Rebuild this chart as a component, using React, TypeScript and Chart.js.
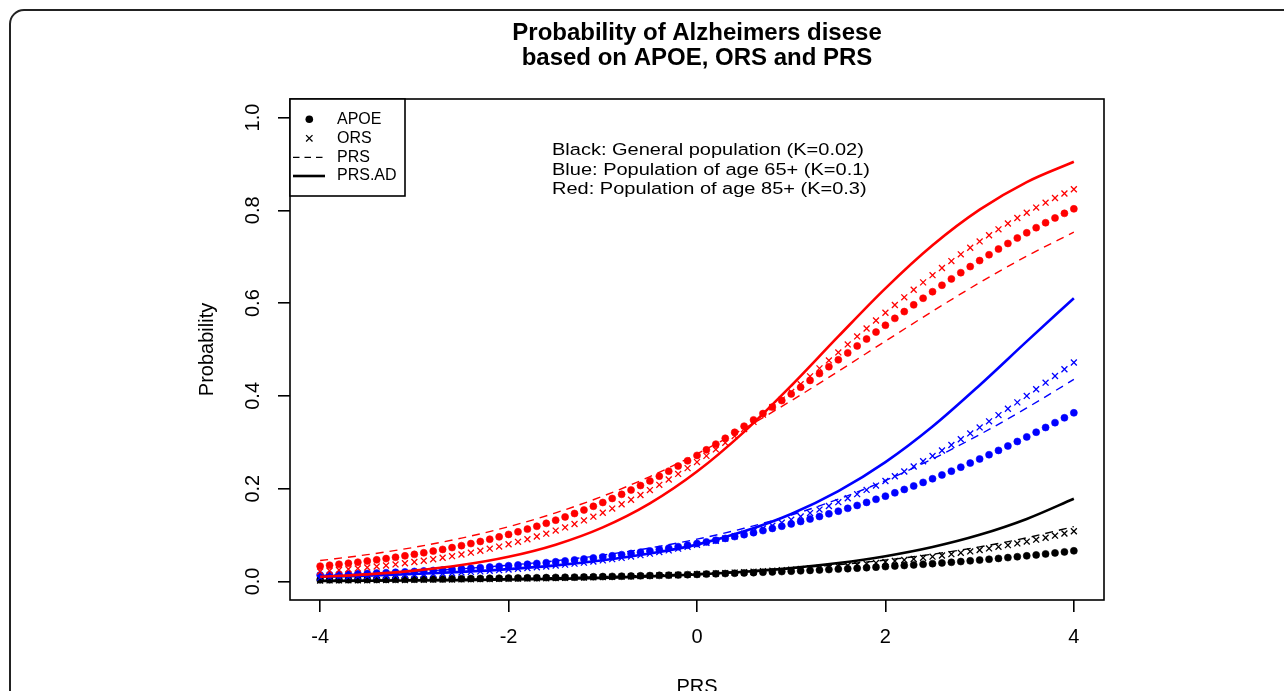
import React, { useEffect, useRef } from 'react';
import { Chart, registerables } from 'chart.js';

Chart.register(...registerables);

// ---------- data ----------
const PRS_POINTS = [
  -4.0, -3.9, -3.8, -3.7, -3.6, -3.5, -3.4, -3.3, -3.2, -3.1, -3.0,
  -2.9, -2.8, -2.7, -2.6, -2.5, -2.4, -2.3, -2.2, -2.1, -2.0,
  -1.9, -1.8, -1.7, -1.6, -1.5, -1.4, -1.3, -1.2, -1.1, -1.0,
  -0.9, -0.8, -0.7, -0.6, -0.5, -0.4, -0.3, -0.2, -0.1, 0.0,
  0.1, 0.2, 0.3, 0.4, 0.5, 0.6, 0.7, 0.8, 0.9, 1.0,
  1.1, 1.2, 1.3, 1.4, 1.5, 1.6, 1.7, 1.8, 1.9, 2.0,
  2.1, 2.2, 2.3, 2.4, 2.5, 2.6, 2.7, 2.8, 2.9, 3.0,
  3.1, 3.2, 3.3, 3.4, 3.5, 3.6, 3.7, 3.8, 3.9, 4.0,
];

const PRS_LINE = [-4, -3.5, -3, -2.5, -2, -1.5, -1, -0.5, 0, 0.5, 1, 1.5, 2, 2.5, 3, 3.5, 4];

// Red: population of age 85+ (K=0.3)
const RED_APOE = [
  0.0330, 0.0350, 0.0370, 0.0392, 0.0415, 0.0440, 0.0466, 0.0493, 0.0522, 0.0552, 0.0584,
  0.0618, 0.0654, 0.0691, 0.0730, 0.0772, 0.0816, 0.0862, 0.0910, 0.0961, 0.1014,
  0.1070, 0.1128, 0.1189, 0.1253, 0.1321, 0.1391, 0.1464, 0.1540, 0.1620, 0.1702,
  0.1789, 0.1878, 0.1971, 0.2067, 0.2167, 0.2270, 0.2377, 0.2487, 0.2600, 0.2717,
  0.2837, 0.2960, 0.3086, 0.3215, 0.3347, 0.3482, 0.3619, 0.3758, 0.3899, 0.4042,
  0.4187, 0.4333, 0.4480, 0.4629, 0.4778, 0.4927, 0.5077, 0.5226, 0.5375, 0.5523,
  0.5671, 0.5817, 0.5962, 0.6105, 0.6246, 0.6385, 0.6522, 0.6656, 0.6788, 0.6917,
  0.7043, 0.7166, 0.7286, 0.7403, 0.7516, 0.7626, 0.7733, 0.7836, 0.7935, 0.8032,
];
const RED_ORS = [
  0.0215, 0.0230, 0.0246, 0.0263, 0.0281, 0.0300, 0.0321, 0.0343, 0.0367, 0.0392, 0.0419,
  0.0447, 0.0478, 0.0510, 0.0545, 0.0581, 0.0620, 0.0662, 0.0706, 0.0752, 0.0802,
  0.0854, 0.0910, 0.0968, 0.1030, 0.1096, 0.1165, 0.1238, 0.1315, 0.1396, 0.1480,
  0.1570, 0.1663, 0.1761, 0.1863, 0.1970, 0.2082, 0.2198, 0.2318, 0.2443, 0.2573,
  0.2707, 0.2846, 0.2988, 0.3134, 0.3285, 0.3439, 0.3596, 0.3756, 0.3920, 0.4085,
  0.4253, 0.4422, 0.4593, 0.4765, 0.4937, 0.5110, 0.5282, 0.5453, 0.5624, 0.5793,
  0.5960, 0.6125, 0.6288, 0.6447, 0.6603, 0.6757, 0.6906, 0.7051, 0.7193, 0.7330,
  0.7463, 0.7591, 0.7715, 0.7835, 0.7949, 0.8059, 0.8165, 0.8266, 0.8363, 0.8455,
];
const RED_PRS = [0.0450, 0.0577, 0.0736, 0.0934, 0.1180, 0.1479, 0.1838, 0.2261, 0.2749, 0.3297, 0.3896, 0.4530, 0.5180, 0.5824, 0.6441, 0.7013, 0.7529];
const RED_PRS_AD = [0.0101, 0.0153, 0.0233, 0.0353, 0.0532, 0.0793, 0.1166, 0.1683, 0.2369, 0.3225, 0.4219, 0.5281, 0.6318, 0.7246, 0.8014, 0.8609, 0.9047];

// Blue: population of age 65+ (K=0.1)
const BLUE_APOE = [
  0.0137, 0.0143, 0.0150, 0.0157, 0.0164, 0.0172, 0.0180, 0.0188, 0.0197, 0.0206, 0.0216,
  0.0226, 0.0236, 0.0247, 0.0259, 0.0271, 0.0283, 0.0296, 0.0310, 0.0324, 0.0339,
  0.0355, 0.0371, 0.0388, 0.0405, 0.0424, 0.0443, 0.0463, 0.0484, 0.0506, 0.0529,
  0.0553, 0.0578, 0.0603, 0.0630, 0.0658, 0.0688, 0.0718, 0.0750, 0.0782, 0.0817,
  0.0852, 0.0889, 0.0928, 0.0967, 0.1009, 0.1052, 0.1096, 0.1143, 0.1190, 0.1240,
  0.1292, 0.1345, 0.1400, 0.1457, 0.1515, 0.1576, 0.1639, 0.1704, 0.1770, 0.1839,
  0.1910, 0.1983, 0.2058, 0.2135, 0.2214, 0.2295, 0.2378, 0.2464, 0.2551, 0.2640,
  0.2732, 0.2825, 0.2920, 0.3017, 0.3116, 0.3217, 0.3319, 0.3423, 0.3528, 0.3635,
];
const BLUE_ORS = [
  0.0081, 0.0086, 0.0091, 0.0096, 0.0102, 0.0108, 0.0115, 0.0122, 0.0129, 0.0137, 0.0145,
  0.0153, 0.0162, 0.0172, 0.0182, 0.0193, 0.0205, 0.0217, 0.0230, 0.0243, 0.0257,
  0.0272, 0.0288, 0.0305, 0.0323, 0.0342, 0.0362, 0.0383, 0.0405, 0.0429, 0.0454,
  0.0480, 0.0507, 0.0536, 0.0567, 0.0599, 0.0633, 0.0669, 0.0706, 0.0746, 0.0787,
  0.0831, 0.0877, 0.0925, 0.0975, 0.1028, 0.1083, 0.1141, 0.1202, 0.1266, 0.1332,
  0.1401, 0.1473, 0.1549, 0.1627, 0.1709, 0.1793, 0.1882, 0.1973, 0.2067, 0.2165,
  0.2267, 0.2371, 0.2479, 0.2590, 0.2704, 0.2822, 0.2942, 0.3065, 0.3191, 0.3321,
  0.3452, 0.3586, 0.3722, 0.3860, 0.4000, 0.4142, 0.4285, 0.4429, 0.4574, 0.4720,
];
const BLUE_PRS = [0.0129, 0.0165, 0.0212, 0.0273, 0.0349, 0.0446, 0.0568, 0.0721, 0.0911, 0.1146, 0.1431, 0.1773, 0.2176, 0.2641, 0.3165, 0.3740, 0.4354];
const BLUE_PRS_AD = [0.0100, 0.0126, 0.0161, 0.0206, 0.0266, 0.0346, 0.0457, 0.0601, 0.0794, 0.1081, 0.1455, 0.1947, 0.2573, 0.3340, 0.4231, 0.5175, 0.6106];

// Black: general population (K=0.02)
const BLACK_APOE = [
  0.0034, 0.0035, 0.0036, 0.0038, 0.0039, 0.0041, 0.0042, 0.0044, 0.0046, 0.0047, 0.0049,
  0.0051, 0.0053, 0.0055, 0.0057, 0.0059, 0.0062, 0.0064, 0.0067, 0.0069, 0.0072,
  0.0075, 0.0077, 0.0080, 0.0083, 0.0087, 0.0090, 0.0093, 0.0097, 0.0101, 0.0105,
  0.0109, 0.0113, 0.0117, 0.0122, 0.0126, 0.0131, 0.0136, 0.0141, 0.0147, 0.0152,
  0.0158, 0.0164, 0.0170, 0.0177, 0.0183, 0.0190, 0.0198, 0.0205, 0.0213, 0.0221,
  0.0229, 0.0238, 0.0247, 0.0256, 0.0266, 0.0276, 0.0286, 0.0297, 0.0308, 0.0320,
  0.0332, 0.0344, 0.0357, 0.0370, 0.0384, 0.0399, 0.0413, 0.0429, 0.0445, 0.0461,
  0.0478, 0.0496, 0.0514, 0.0533, 0.0552, 0.0572, 0.0593, 0.0615, 0.0637, 0.0660,
];
const BLACK_ORS = [
  0.0020, 0.0022, 0.0023, 0.0024, 0.0025, 0.0026, 0.0028, 0.0029, 0.0031, 0.0032, 0.0034,
  0.0036, 0.0038, 0.0040, 0.0042, 0.0044, 0.0046, 0.0049, 0.0051, 0.0054, 0.0057,
  0.0060, 0.0063, 0.0066, 0.0069, 0.0073, 0.0077, 0.0081, 0.0085, 0.0089, 0.0094,
  0.0099, 0.0104, 0.0109, 0.0115, 0.0121, 0.0127, 0.0134, 0.0140, 0.0148, 0.0155,
  0.0163, 0.0172, 0.0180, 0.0190, 0.0199, 0.0210, 0.0220, 0.0232, 0.0243, 0.0256,
  0.0269, 0.0283, 0.0297, 0.0312, 0.0328, 0.0344, 0.0362, 0.0380, 0.0399, 0.0419,
  0.0440, 0.0462, 0.0485, 0.0509, 0.0534, 0.0560, 0.0588, 0.0617, 0.0647, 0.0679,
  0.0712, 0.0746, 0.0782, 0.0820, 0.0859, 0.0900, 0.0942, 0.0987, 0.1033, 0.1081,
];
const BLACK_PRS = [0.0023, 0.0029, 0.0038, 0.0048, 0.0062, 0.0080, 0.0104, 0.0133, 0.0171, 0.0220, 0.0282, 0.0361, 0.0461, 0.0587, 0.0745, 0.0941, 0.1182];
const BLACK_PRS_AD = [0.0011, 0.0015, 0.0021, 0.0029, 0.0041, 0.0056, 0.0078, 0.0109, 0.0151, 0.0209, 0.0288, 0.0397, 0.0545, 0.0743, 0.1006, 0.1348, 0.1783];

const X_TICKS = [-4, -2, 0, 2, 4];
const X_TICK_LABELS = ['-4', '-2', '0', '2', '4'];
const Y_TICKS = [0, 0.2, 0.4, 0.6, 0.8, 1.0];
const Y_TICK_LABELS = ['0.0', '0.2', '0.4', '0.6', '0.8', '1.0'];

const TITLE_LINES = ['Probability of Alzheimers disese', 'based on APOE, ORS and PRS'];
const X_TITLE = 'PRS';
const Y_TITLE = 'Probability';
const NOTE_LINES = [
  'Black: General population (K=0.02)',
  'Blue: Population of age 65+ (K=0.1)',
  'Red: Population of age 85+ (K=0.3)',
];
const LEGEND_LABELS = ['APOE', 'ORS', 'PRS', 'PRS.AD'];

// ---------- layout / style ----------
const W = 1284;
const H = 691;
const FONT = "'Liberation Sans', Arial, Helvetica, sans-serif";
const RED = '#ff0000';
const BLUE = '#0000ff';
const BLACK = '#000000';

const toPts = (xs: number[], ys: number[]) => xs.map((x, i) => ({ x, y: ys[i] }));

function markerSet(label: string, ys: number[], color: string, style: 'circle' | 'crossRot') {
  const isDot = style === 'circle';
  return {
    label,
    data: toPts(PRS_POINTS, ys),
    showLine: false,
    pointStyle: style,
    pointRadius: isDot ? 3.5 : 4.2,
    pointHoverRadius: isDot ? 3.5 : 4.2,
    pointBorderWidth: isDot ? 0.6 : 1.3,
    pointBackgroundColor: color,
    pointBorderColor: color,
    borderColor: color,
    backgroundColor: color,
  };
}

function lineSet(label: string, ys: number[], color: string, dashed: boolean) {
  return {
    label,
    data: toPts(PRS_LINE, ys),
    borderColor: color,
    backgroundColor: color,
    borderWidth: dashed ? 1.4 : 2.6,
    borderDash: dashed ? [8, 6] : [],
    pointRadius: 0,
    pointHoverRadius: 0,
    fill: false,
    cubicInterpolationMode: 'monotone',
  };
}

const decorPlugin = {
  id: 'decor',
  afterDraw(chart: any) {
    const { ctx, chartArea: a } = chart;
    ctx.save();
    ctx.strokeStyle = '#000';
    ctx.lineWidth = 1.6;
    ctx.strokeRect(a.left, a.top, a.right - a.left, a.bottom - a.top);

    // legend box (top-left, inside plot)
    const lx0 = a.left;
    const ly0 = a.top;
    const lx1 = 405;
    const ly1 = 196;
    ctx.fillStyle = '#fff';
    ctx.fillRect(lx0, ly0, lx1 - lx0, ly1 - ly0);
    ctx.strokeRect(lx0, ly0, lx1 - lx0, ly1 - ly0);

    const rows = [119.3, 138.3, 157.3, 176];
    const sx = 309.3;
    ctx.fillStyle = '#000';
    ctx.beginPath();
    ctx.arc(sx, rows[0], 3.8, 0, Math.PI * 2);
    ctx.fill();

    ctx.lineWidth = 1.3;
    const c = 3.2;
    ctx.beginPath();
    ctx.moveTo(sx - c, rows[1] - c);
    ctx.lineTo(sx + c, rows[1] + c);
    ctx.moveTo(sx - c, rows[1] + c);
    ctx.lineTo(sx + c, rows[1] - c);
    ctx.stroke();

    ctx.setLineDash([6.5, 5]);
    ctx.lineWidth = 1.3;
    ctx.beginPath();
    ctx.moveTo(293, rows[2]);
    ctx.lineTo(325, rows[2]);
    ctx.stroke();

    ctx.setLineDash([]);
    ctx.lineWidth = 2.6;
    ctx.beginPath();
    ctx.moveTo(293, rows[3]);
    ctx.lineTo(325, rows[3]);
    ctx.stroke();

    ctx.font = `16px ${FONT}`;
    ctx.textBaseline = 'middle';
    ctx.textAlign = 'left';
    LEGEND_LABELS.forEach((t, i) => ctx.fillText(t, 337, rows[i]));

    // annotation (slightly wide lettering, as in the source figure)
    ctx.font = `17.4px ${FONT}`;
    ctx.textBaseline = 'alphabetic';
    NOTE_LINES.forEach((t, i) => {
      ctx.save();
      ctx.translate(552, 155.4 + i * 19.3);
      ctx.scale(1.15, 1);
      ctx.fillText(t, 0, 0);
      ctx.restore();
    });
    ctx.restore();
  },
};

export default function App() {
  const canvasRef = useRef<HTMLCanvasElement | null>(null);

  useEffect(() => {
    const canvas = canvasRef.current;
    if (!canvas) return;
    Chart.defaults.font.family = FONT;

    const datasets: any[] = [
      lineSet('Red PRS.AD', RED_PRS_AD, RED, false),
      lineSet('Blue PRS.AD', BLUE_PRS_AD, BLUE, false),
      lineSet('Black PRS.AD', BLACK_PRS_AD, BLACK, false),
      lineSet('Red PRS', RED_PRS, RED, true),
      lineSet('Blue PRS', BLUE_PRS, BLUE, true),
      lineSet('Black PRS', BLACK_PRS, BLACK, true),
      markerSet('Red ORS', RED_ORS, RED, 'crossRot'),
      markerSet('Blue ORS', BLUE_ORS, BLUE, 'crossRot'),
      markerSet('Black ORS', BLACK_ORS, BLACK, 'crossRot'),
      markerSet('Red APOE', RED_APOE, RED, 'circle'),
      markerSet('Blue APOE', BLUE_APOE, BLUE, 'circle'),
      markerSet('Black APOE', BLACK_APOE, BLACK, 'circle'),
    ];

    const chart = new Chart(canvas, {
      type: 'line',
      data: { datasets },
      plugins: [decorPlugin],
      options: {
        responsive: false,
        animation: false,
        devicePixelRatio: 1,
        events: [],
        layout: { padding: { left: 0, top: 0, right: W - 1104, bottom: 0 } },
        plugins: {
          legend: { display: false },
          tooltip: { enabled: false },
          title: {
            display: true,
            text: TITLE_LINES,
            fullSize: false,
            color: '#000',
            font: { family: FONT, size: 24, weight: 'bold', lineHeight: '25px' },
            padding: { top: 20.5, bottom: 28.5 },
          },
        },
        scales: {
          x: {
            type: 'linear',
            min: -4.32,
            max: 4.32,
            afterBuildTicks: (s: any) => {
              s.ticks = X_TICKS.map((v) => ({ value: v }));
            },
            afterFit: (s: any) => {
              s.height = 91;
            },
            ticks: {
              callback: (_v: any, i: number) => X_TICK_LABELS[i],
              color: '#000',
              font: { family: FONT, size: 20 },
              padding: 13.5,
              autoSkip: false,
              minRotation: 0,
              maxRotation: 0,
            },
            grid: {
              display: true,
              drawOnChartArea: false,
              drawTicks: true,
              tickLength: 12,
              color: '#000',
              lineWidth: 1.6,
            },
            border: { display: false },
            title: {
              display: true,
              text: X_TITLE,
              color: '#000',
              font: { family: FONT, size: 20, lineHeight: '7px' },
              padding: 0,
            },
          },
          y: {
            type: 'linear',
            min: -0.04,
            max: 1.04,
            afterBuildTicks: (s: any) => {
              s.ticks = Y_TICKS.map((v) => ({ value: v }));
            },
            afterFit: (s: any) => {
              s.width = 290;
            },
            ticks: {
              callback: (_v: any, i: number) => Y_TICK_LABELS[i],
              color: '#000',
              font: { family: FONT, size: 20 },
              padding: 11.1,
              autoSkip: false,
              minRotation: 90,
              maxRotation: 90,
              crossAlign: 'center',
            },
            grid: {
              display: true,
              drawOnChartArea: false,
              drawTicks: true,
              tickLength: 12,
              color: '#000',
              lineWidth: 1.6,
            },
            border: { display: false },
            title: {
              display: true,
              text: Y_TITLE,
              color: '#000',
              font: { family: FONT, size: 20, lineHeight: 1.2 },
              padding: { top: 195, bottom: 0 },
            },
          },
        },
      } as any,
    } as any);

    return () => chart.destroy();
  }, []);

  return (
    <div
      style={{
        position: 'fixed',
        left: 0,
        top: 0,
        width: 1284,
        height: 691,
        overflow: 'hidden',
        background: '#fff',
      }}
    >
      <div
        style={{
          position: 'absolute',
          left: 8.5,
          top: 9.3,
          width: 1400,
          height: 800,
          border: '2px solid #222',
          borderTopLeftRadius: 15,
          boxSizing: 'border-box',
        }}
      />
      <canvas
        ref={canvasRef}
        width={W}
        height={H}
        style={{ position: 'absolute', left: 0, top: 0 }}
      />
    </div>
  );
}
